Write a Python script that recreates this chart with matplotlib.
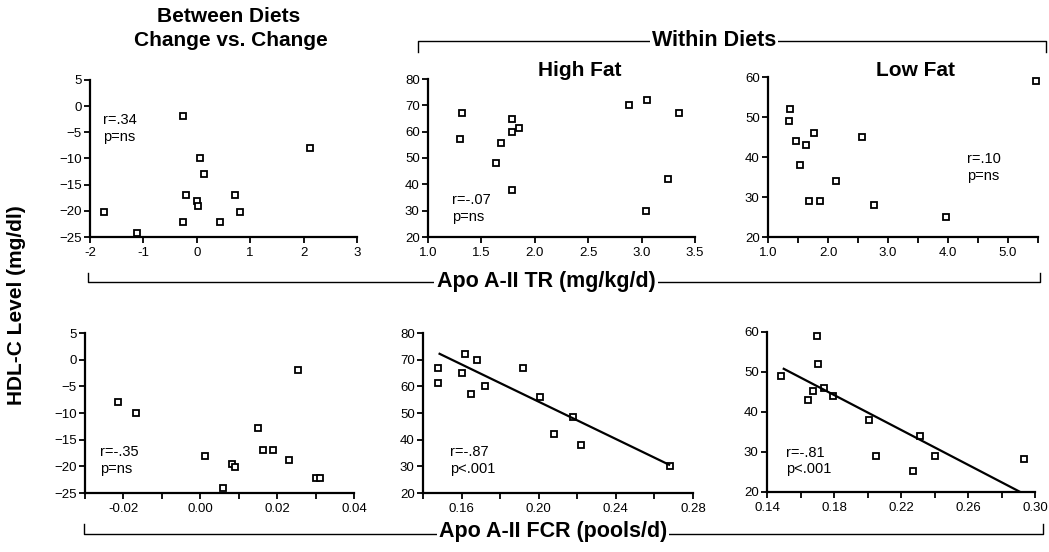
import numpy as np
import matplotlib
matplotlib.use("Agg")
import matplotlib.pyplot as plt
from matplotlib.ticker import FixedLocator, FormatStrFormatter

plt.rcParams['font.family'] = ['Liberation Sans', 'DejaVu Sans']

# --- datos ---
# fila superior: Apo A-II TR
chg_tr_x = [-1.73, -1.12, -0.26, -0.21, -0.26, 0.06, 0.14, 0.00, 0.03, 0.44, 0.71, 0.81, 2.12]
chg_tr_y = [-20.2, -24.2, -1.8, -17.0, -22.2, -9.9, -12.9, -18.1, -19.1, -22.2, -17.0, -20.2, -8.0]

hf_tr_x = [1.32, 1.30, 1.64, 1.68, 1.79, 1.79, 1.85, 1.79, 2.88, 3.05, 3.04, 3.25, 3.35]
hf_tr_y = [67, 57.2, 48.1, 55.8, 64.8, 60, 61.4, 37.7, 70.2, 72, 29.7, 41.9, 67]

lf_tr_x = [1.35, 1.37, 1.47, 1.54, 1.64, 1.77, 1.68, 1.86, 2.13, 2.57, 2.77, 3.97, 5.46]
lf_tr_y = [49, 52, 44, 38, 43, 46, 29, 29, 34, 45, 28, 25, 59]

# fila inferior: Apo A-II FCR
chg_fcr_x = [-0.0214, -0.0166, 0.0011, 0.0060, 0.0083, 0.0091, 0.0151, 0.0162, 0.0190,
             0.0230, 0.0255, 0.0300, 0.0311]
chg_fcr_y = [-8.0, -10.0, -18.1, -24.1, -19.6, -20.1, -12.9, -16.9, -16.9, -18.9, -1.9, -22.1, -22.1]

hf_fcr_x = [0.148, 0.148, 0.162, 0.160, 0.165, 0.168, 0.172, 0.192, 0.2005, 0.208, 0.218, 0.222, 0.268]
hf_fcr_y = [67, 61.2, 72, 65, 57.2, 70, 60, 67, 56, 42, 48.4, 38, 30]

lf_fcr_x = [0.1483, 0.1645, 0.1675, 0.170, 0.1706, 0.174, 0.1796, 0.201, 0.205, 0.227,
            0.2316, 0.240, 0.2935]
lf_fcr_y = [49, 43.1, 45.2, 59.1, 52, 46.1, 43.9, 38, 29.1, 25.2, 34.1, 29, 28.2]

# rectas de regresion tal como aparecen en la figura (extremos)
hf_fit_x = [0.1486, 0.2676]
hf_fit_y = [72.2, 30.6]
lf_fit_x = [0.150, 0.2935]
lf_fit_y = [50.8, 19.5]

stats_labels = ["r=.34\np=ns", "r=-.07\np=ns", "r=.10\np=ns",
                "r=-.35\np=ns", "r=-.87\np<.001", "r=-.81\np<.001"]

W, H = 1049, 552
fig = plt.figure(figsize=(W / 100, H / 100), dpi=100)


def ejes_px(x0, x1, y_top, y_bot):
    # crea ejes a partir de coordenadas en pixeles
    return fig.add_axes([x0 / W, (H - y_bot) / H, (x1 - x0) / W, (y_bot - y_top) / H])


def estilo(ax, xlim, ylim, xmaj, xmin, ymaj, xfmt):
    ax.set_xlim(*xlim)
    ax.set_ylim(*ylim)
    for s in ['top', 'right']:
        ax.spines[s].set_visible(False)
    for s in ['left', 'bottom']:
        ax.spines[s].set_linewidth(1.6)
    ax.xaxis.set_major_locator(FixedLocator(xmaj))
    if xmin is not None:
        ax.xaxis.set_minor_locator(FixedLocator(xmin))
    ax.yaxis.set_major_locator(FixedLocator(ymaj))
    ax.xaxis.set_major_formatter(FormatStrFormatter(xfmt))
    ax.tick_params(which='both', direction='out', length=4, width=1.3, labelsize=9.5, pad=3)
    ax.tick_params(axis='y', pad=2)


def puntos(ax, x, y):
    ax.plot(x, y, ls='none', marker='s', ms=4.6, mfc='white', mec='black', mew=1.3, clip_on=False)


ax1 = ejes_px(90, 357, 80, 237)
estilo(ax1, (-2, 3), (-25, 5), np.arange(-2, 4, 1), None, np.arange(-25, 10, 5), '%d')
puntos(ax1, chg_tr_x, chg_tr_y)

ax2 = ejes_px(428, 695, 79, 237)
estilo(ax2, (1.0, 3.5), (20, 80), np.arange(1.0, 3.51, 0.5), None, np.arange(20, 81, 10), '%.1f')
puntos(ax2, hf_tr_x, hf_tr_y)

ax3 = ejes_px(768, 1038, 77, 237)
estilo(ax3, (1.0, 5.5), (20, 60), np.arange(1.0, 5.01, 1.0), np.arange(1.5, 5.51, 1.0),
       np.arange(20, 61, 10), '%.1f')
puntos(ax3, lf_tr_x, lf_tr_y)

ax4 = ejes_px(85, 354, 333, 493)
estilo(ax4, (-0.03, 0.04), (-25, 5), [-0.02, 0.0, 0.02, 0.04], [-0.03, -0.01, 0.01, 0.03],
       np.arange(-25, 10, 5), '%.2f')
puntos(ax4, chg_fcr_x, chg_fcr_y)

ax5 = ejes_px(423, 693, 333, 493)
estilo(ax5, (0.14, 0.28), (20, 80), [0.16, 0.20, 0.24, 0.28], [0.14, 0.18, 0.22, 0.26],
       np.arange(20, 81, 10), '%.2f')
puntos(ax5, hf_fcr_x, hf_fcr_y)
ax5.plot(hf_fit_x, hf_fit_y, color='black', lw=1.6)

ax6 = ejes_px(767, 1035, 332, 492)
estilo(ax6, (0.14, 0.30), (20, 60), [0.14, 0.18, 0.22, 0.26, 0.30], [0.16, 0.20, 0.24, 0.28],
       np.arange(20, 61, 10), '%.2f')
puntos(ax6, lf_fcr_x, lf_fcr_y)
ax6.plot(lf_fit_x, lf_fit_y, color='black', lw=1.6)

# anotaciones r / p
pos_txt = [(0.049, 0.79), (0.09, 0.28), (0.737, 0.53), (0.056, 0.30), (0.10, 0.30), (0.071, 0.29)]
for ax, txt, (tx, ty) in zip([ax1, ax2, ax3, ax4, ax5, ax6], stats_labels, pos_txt):
    ax.text(tx, ty, txt, transform=ax.transAxes, fontsize=10.5, va='top', ha='left', linespacing=1.25)

# capa superior en pixeles para titulos y corchetes
top = fig.add_axes([0, 0, 1, 1], facecolor='none')
top.set_xlim(0, W)
top.set_ylim(H, 0)
top.axis('off')

bold = dict(fontweight='bold', ha='center', va='center', color='black')
top.text(229, 16, "Between Diets", fontsize=15, **bold)
top.text(231, 40, "Change vs. Change", fontsize=15, **bold)
top.text(580, 70, "High Fat", fontsize=15, **bold)
top.text(915, 70, "Low Fat", fontsize=15, **bold)

box = dict(facecolor='white', edgecolor='none', pad=1.5)
# corchete Within Diets
top.plot([418, 418, 1046, 1046], [52, 41, 41, 52], color='black', lw=1.0)
top.text(714, 41, "Within Diets", fontsize=15.5, bbox=box, **bold)
# corchete Apo A-II TR
top.plot([88, 88, 1040, 1040], [273, 282, 282, 273], color='black', lw=1.0)
top.text(546, 281, "Apo A-II TR (mg/kg/d)", fontsize=15.5, bbox=box, **bold)
# corchete Apo A-II FCR
top.plot([84, 84, 1043, 1043], [524, 534, 534, 524], color='black', lw=1.0)
top.text(553, 532, "Apo A-II FCR (pools/d)", fontsize=15.5, bbox=box, **bold)

top.text(17, 305, "HDL-C Level (mg/dl)", fontsize=15, rotation=90, **bold)

fig.savefig("out.png", dpi=100)
